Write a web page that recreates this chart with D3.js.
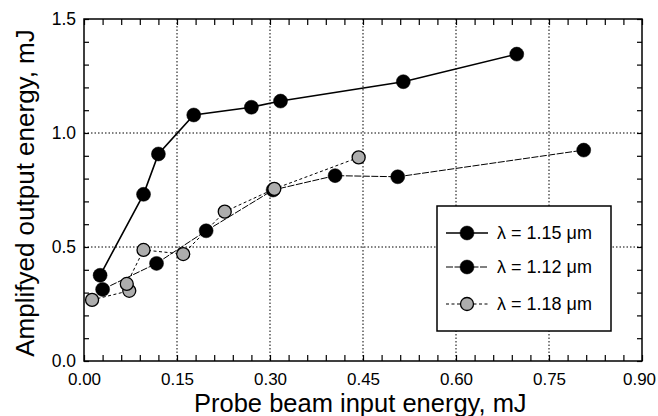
<!DOCTYPE html>
<html><head><meta charset="utf-8">
<script src="https://cdn.jsdelivr.net/npm/d3@7"></script>
<style>body{margin:0;background:#fff}svg{display:block}text{font-family:"Liberation Sans",Arial,sans-serif;fill:#000}</style>
</head><body><svg id="c" width="658" height="416"></svg>
<script>
const x115 = [0.026,0.096,0.120,0.177,0.270,0.317,0.515,0.698];
const y115 = [0.376,0.731,0.908,1.079,1.113,1.140,1.225,1.346];
const x112 = [0.030,0.117,0.197,0.305,0.405,0.506,0.806];
const y112 = [0.314,0.428,0.571,0.750,0.813,0.808,0.925];
const x118 = [0.013,0.073,0.069,0.096,0.160,0.227,0.307,0.443];
const y118 = [0.268,0.308,0.338,0.487,0.469,0.655,0.755,0.893];
const xTicks = [0,0.15,0.30,0.45,0.60,0.75,0.90];
const yTicks = [0,0.5,1.0,1.5];
const seriesNames = ["λ = 1.15 μm","λ = 1.12 μm","λ = 1.18 μm"];

const svg = d3.select("#c");
const L=84,R=642,T=19,B=361;
const x = d3.scaleLinear().domain([0,0.9]).range([L,R]);
const y = d3.scaleLinear().domain([0,1.5]).range([B,T]);

// gridlines
const g = svg.append("g");
xTicks.slice(1,-1).forEach(v=>g.append("line").attr("x1",x(v)).attr("x2",x(v)).attr("y1",T).attr("y2",B)
  .attr("stroke","#000").attr("stroke-width",1).attr("stroke-dasharray","1.5,2"));
yTicks.slice(1,-1).forEach(v=>g.append("line").attr("y1",y(v)).attr("y2",y(v)).attr("x1",L).attr("x2",R)
  .attr("stroke","#000").attr("stroke-width",1).attr("stroke-dasharray","1.5,2"));

// axes with inward ticks
const xMinor = d3.range(0,0.9001,0.03);
const yMinor = d3.range(0,1.5001,0.1);
svg.append("g").attr("transform",`translate(0,${B})`)
  .call(d3.axisBottom(x).tickValues(xMinor).tickSize(-6).tickFormat(""))
  .call(a=>a.select(".domain").remove()).selectAll("line").attr("stroke-width",1.2);
svg.append("g").attr("transform",`translate(0,${T})`)
  .call(d3.axisTop(x).tickValues(xMinor).tickSize(-6).tickFormat(""))
  .call(a=>a.select(".domain").remove()).selectAll("line").attr("stroke-width",1.2);
svg.append("g").attr("transform",`translate(${L},0)`)
  .call(d3.axisLeft(y).tickValues(yMinor).tickSize(-5).tickFormat(""))
  .call(a=>a.select(".domain").remove()).selectAll("line").attr("stroke-width",1.2);
svg.append("g").attr("transform",`translate(${R},0)`)
  .call(d3.axisRight(y).tickValues(yMinor).tickSize(-5).tickFormat(""))
  .call(a=>a.select(".domain").remove()).selectAll("line").attr("stroke-width",1.2);

// tick labels
const xl = svg.append("g").attr("transform",`translate(0,${B})`)
  .call(d3.axisBottom(x).tickValues(xTicks).tickSize(0).tickPadding(12).tickFormat(d3.format(".2f")));
xl.select(".domain").remove();
xl.selectAll("text").style("font-size","17px").style("font-family","Liberation Sans, Arial, sans-serif").attr("fill","#000")
  .attr("dx",(d,i)=>i===xTicks.length-1?"-3":"0");
const yl = svg.append("g").attr("transform",`translate(${L},0)`)
  .call(d3.axisLeft(y).tickValues(yTicks).tickSize(0).tickPadding(8).tickFormat(d3.format(".1f")));
yl.select(".domain").remove();
yl.selectAll("text").style("font-size","17.5px").style("font-family","Liberation Sans, Arial, sans-serif").attr("fill","#000");

// frame
svg.append("rect").attr("x",L).attr("y",T).attr("width",R-L).attr("height",B-T)
  .attr("fill","none").attr("stroke","#000").attr("stroke-width",1.5);

// axis titles
svg.append("text").attr("x",194).attr("y",412).attr("text-anchor","start")
  .style("font-size","25.5px").text("Probe beam input energy, mJ");
svg.append("text").attr("transform",`translate(34,193) rotate(-90)`).attr("text-anchor","middle")
  .style("font-size","26px").text("Amplifyed output energy, mJ");

const line = d3.line().x(d=>x(d[0])).y(d=>y(d[1]));
const d115 = x115.map((v,i)=>[v,y115[i]]);
const d112 = x112.map((v,i)=>[v,y112[i]]);
const d118 = x118.map((v,i)=>[v,y118[i]]);

const styles = [
  {w:1.6,dash:null,fill:"#000",r:7},
  {w:1,dash:"7,1.5",fill:"#000",r:7},
  {w:1,dash:"3,2.5",fill:"#adadad",r:6.5}
];
const datas=[d115,d112,d118];
[1,2,0].forEach(i=>{
  svg.append("path").datum(datas[i]).attr("d",line).attr("fill","none").attr("stroke","#000")
    .attr("stroke-width",styles[i].w).attr("stroke-dasharray",styles[i].dash);
});
[0,1,2].forEach(i=>{
  svg.append("g").selectAll("circle").data(datas[i]).join("circle")
    .attr("cx",d=>x(d[0])).attr("cy",d=>y(d[1])).attr("r",styles[i].r)
    .attr("fill",styles[i].fill).attr("stroke","#000").attr("stroke-width",i==2?1.3:0.5);
});

// legend
const lg = svg.append("g");
lg.append("rect").attr("x",437).attr("y",206).attr("width",174).attr("height",125)
  .attr("fill","#fff").attr("stroke","#000").attr("stroke-width",1.5);
const rows=[233,267,304];
rows.forEach((ry,i)=>{
  lg.append("line").attr("x1",446).attr("x2",488).attr("y1",ry).attr("y2",ry).attr("stroke","#000")
    .attr("stroke-width",styles[i].w).attr("stroke-dasharray",styles[i].dash);
  lg.append("circle").attr("cx",467).attr("cy",ry).attr("r",styles[i].r)
    .attr("fill",styles[i].fill).attr("stroke","#000").attr("stroke-width",i==2?1.3:0.5);
  lg.append("text").attr("x",497).attr("y",ry+6).style("font-size","18px").text(seriesNames[i]);
});
</script></body></html>
